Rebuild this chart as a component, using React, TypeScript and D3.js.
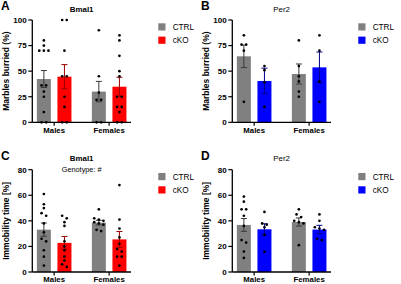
import React from "react";
import * as d3 from "d3";

// ---- categories ----
const sexes = ["Males", "Females"];
const genotypes = ["CTRL", "cKO"];

// ---- tick labels ----
const marbleTicks = [0, 25, 50, 75, 100];
const immobilityTicks = [0, 20, 40, 60, 80];

// ---- values (order: Males CTRL, Males cKO, Females CTRL, Females cKO) ----
const bmal1MarbleMean = [42.3, 44.6, 30, 34.8];
const bmal1MarbleSem = [8.3, 11.8, 10, 9.2];
const bmal1MarbleDots = [
  [80, 75, 70, 70, 70, 36, 36, 30, 25, 10, 0, 0],
  [100, 100, 70, 45, 45, 25, 15, 0, 0],
  [90, 45, 29, 22, 22, 0, 0],
  [85, 80, 65, 50, 45, 25, 25, 15, 15, 10, 0, 0],
];

const per2MarbleMean = [64.5, 40.4, 47.2, 53.7];
const per2MarbleSem = [11, 12.5, 9.8, 15];
const per2MarbleDots = [
  [85, 76, 76, 70, 20],
  [55, 51, 39, 15],
  [80, 55, 45, 40, 30, 25],
  [85, 70, 40, 20],
];

const bmal1ImmobMean = [33.1, 22.8, 38.6, 25.5];
const bmal1ImmobSem = [5.2, 5, 1.8, 6.2];
const bmal1ImmobDots = [
  [61, 53, 50, 46, 44, 38, 31, 26, 24, 17, 12, 5],
  [44, 42, 39, 36, 24, 20, 17, 12, 9, 6, 4],
  [49, 42, 41, 40, 39, 38, 37, 33, 32],
  [68, 41, 34, 27, 22, 18, 16, 12, 12, 5],
];

const per2ImmobMean = [36.8, 33.4, 39.1, 33.2];
const per2ImmobSem = [5, 4.3, 3.2, 3.3];
const per2ImmobDots = [
  [59, 55, 49, 49, 44, 36, 25, 23, 16, 11],
  [47, 38, 37, 35, 29, 16],
  [49, 45, 43, 40, 39, 38, 21],
  [45, 40, 35, 34, 33, 26, 25],
];

const FONT = "'Liberation Sans', Arial, Helvetica, sans-serif";
const GREY = "#808080";
const RED = "#ff0000";
const BLUE = "#0000ff";

type PanelProps = {
  ox: number;
  oy: number;
  letter: string;
  title: string;
  titleBold: boolean;
  subtitle?: string;
  yLabel: string;
  ticks: number[];
  yMax: number;
  means: number[];
  sems: number[];
  dots: number[][];
  koColor: string;
  koErr: string;
};

function spreadDots(values: number[], y: (v: number) => number) {
  const sorted = values.slice().sort((a, b) => b - a);
  const clusters: number[][] = [];
  sorted.forEach((v) => {
    const last = clusters[clusters.length - 1];
    if (last && Math.abs(y(last[0]) - y(v)) < 3) last.push(v);
    else clusters.push([v]);
  });
  const out: { v: number; dx: number }[] = [];
  clusters.forEach((c) => {
    c.forEach((v, k) => out.push({ v, dx: (k - (c.length - 1) / 2) * 4.6 }));
  });
  return out;
}

function Panel(p: PanelProps) {
  const left = 32.3;
  const top = 20;
  const plotW = 98.7;
  const plotH = 102.3;
  const x0 = d3.scaleBand<string>().domain(sexes).range([0, plotW]).paddingInner(0.371).paddingOuter(0.083);
  const x1 = d3.scaleBand<string>().domain(genotypes).range([0, x0.bandwidth()]).paddingInner(0.32);
  const y = d3.scaleLinear().domain([0, p.yMax]).range([plotH, 0]);
  const colors = [GREY, p.koColor];
  const errColors = ["#3a3a3a", p.koErr];
  const cx = left + plotW / 2;

  return (
    <g transform={`translate(${p.ox},${p.oy})`} fontFamily={FONT}>
      <text x={1} y={9.8} fontSize={12} fontWeight="bold">{p.letter}</text>
      <text x={cx} y={11.5} fontSize={7.9} fontWeight={p.titleBold ? "bold" : "normal"} textAnchor="middle">{p.title}</text>
      {p.subtitle && (
        <text x={cx} y={22.6} fontSize={7.3} textAnchor="middle">{p.subtitle}</text>
      )}
      <text
        transform={`translate(8.6,${top + plotH / 2}) rotate(-90)`}
        fontSize={8.5}
        fontWeight="bold"
        textAnchor="middle"
      >
        {p.yLabel}
      </text>
      <g transform={`translate(${left},${top})`}>
        {sexes.map((s, si) =>
          genotypes.map((g, gi) => {
            const idx = si * 2 + gi;
            const bx = (x0(s) as number) + (x1(g) as number);
            const bw = x1.bandwidth();
            const m = p.means[idx];
            const se = p.sems[idx];
            const mx = bx + bw / 2;
            return (
              <g key={s + g}>
                <rect x={bx} y={y(m)} width={bw} height={plotH - y(m)} fill={colors[gi]} />
                <line x1={mx} x2={mx} y1={y(m + se)} y2={y(Math.max(0, m - se))} stroke={errColors[gi]} strokeWidth={1} />
                <line x1={mx - 3} x2={mx + 3} y1={y(m + se)} y2={y(m + se)} stroke={errColors[gi]} strokeWidth={1} />
                <line x1={mx - 3} x2={mx + 3} y1={y(Math.max(0, m - se))} y2={y(Math.max(0, m - se))} stroke={errColors[gi]} strokeWidth={1} />
              </g>
            );
          })
        )}
        {sexes.map((s, si) =>
          genotypes.map((g, gi) => {
            const idx = si * 2 + gi;
            const mx = (x0(s) as number) + (x1(g) as number) + x1.bandwidth() / 2;
            return spreadDots(p.dots[idx], y).map((d, k) => (
              <circle key={s + g + k} cx={mx + d.dx} cy={y(d.v)} r={1.35} fill="#000" />
            ));
          })
        )}
        {/* y axis */}
        <line x1={0} x2={0} y1={0} y2={plotH} stroke="#000" strokeWidth={1.3} />
        {p.ticks.map((t) => (
          <g key={t}>
            <line x1={-4} x2={0} y1={y(t)} y2={y(t)} stroke="#000" strokeWidth={1.2} />
            <text x={-5.6} y={y(t) + 2.9} fontSize={8} fontWeight="bold" textAnchor="end">{t}</text>
          </g>
        ))}
        {/* x axis */}
        <line x1={0} x2={plotW} y1={plotH} y2={plotH} stroke="#000" strokeWidth={1.3} />
        {sexes.map((s) => {
          const gx = (x0(s) as number) + x0.bandwidth() / 2;
          return (
            <g key={s}>
              <line x1={gx} x2={gx} y1={plotH} y2={plotH + 3.5} stroke="#000" strokeWidth={1.2} />
              <text x={gx} y={plotH + 10.2} fontSize={7.8} fontWeight="bold" textAnchor="middle">{s}</text>
            </g>
          );
        })}
      </g>
      {/* legend */}
      {genotypes.map((g, gi) => (
        <g key={g} transform={`translate(158.3,${23.3 + gi * 13.3})`}>
          <rect x={0} y={0} width={7.2} height={7.2} fill={colors[gi]} />
          <text x={14.4} y={6.6} fontSize={8.2}>{g}</text>
        </g>
      ))}
    </g>
  );
}

export default function App() {
  return (
    <svg
      width={401}
      height={284}
      style={{ position: "absolute", left: 0, top: 0, background: "#fff" }}
    >
      <rect width={401} height={284} fill="#fff" />
      <Panel ox={0} oy={0} letter="A" title="Bmal1" titleBold yLabel="Marbles burried (%)" ticks={marbleTicks} yMax={100}
        means={bmal1MarbleMean} sems={bmal1MarbleSem} dots={bmal1MarbleDots} koColor={RED} koErr="#990000" />
      <Panel ox={200} oy={0} letter="B" title="Per2" titleBold={false} yLabel="Marbles burried (%)" ticks={marbleTicks} yMax={100}
        means={per2MarbleMean} sems={per2MarbleSem} dots={per2MarbleDots} koColor={BLUE} koErr="#000088" />
      <Panel ox={0} oy={149.7} letter="C" title="Bmal1" titleBold subtitle="Genotype: #" yLabel="Immobility time [%]" ticks={immobilityTicks} yMax={80}
        means={bmal1ImmobMean} sems={bmal1ImmobSem} dots={bmal1ImmobDots} koColor={RED} koErr="#990000" />
      <Panel ox={200} oy={149.7} letter="D" title="Per2" titleBold={false} yLabel="Immobility time [%]" ticks={immobilityTicks} yMax={80}
        means={per2ImmobMean} sems={per2ImmobSem} dots={per2ImmobDots} koColor={BLUE} koErr="#000088" />
    </svg>
  );
}
